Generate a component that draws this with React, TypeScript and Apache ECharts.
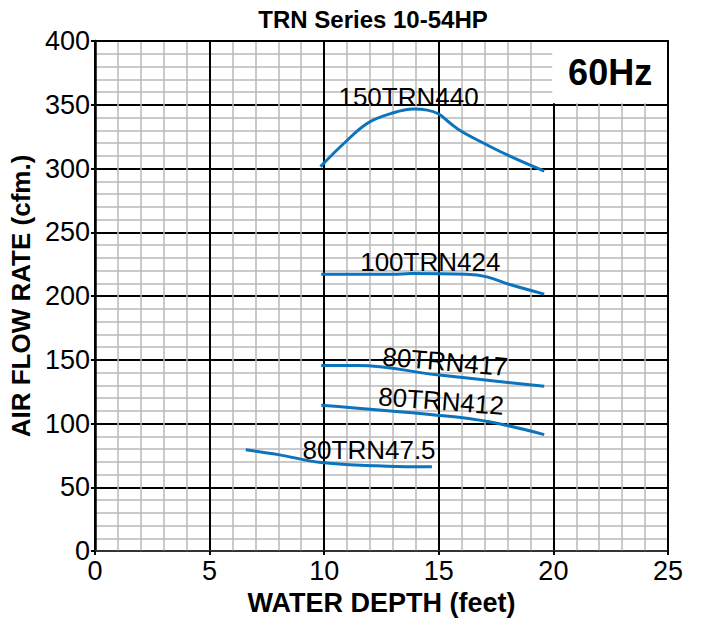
import React, { useEffect, useRef } from "react";
import * as echarts from "echarts";

const xTicks = [0, 5, 10, 15, 20, 25];
const yTicks = [0, 50, 100, 150, 200, 250, 300, 350, 400];

const s150: [number, number][] = [
  [9.84, 301.5], [10.88, 320], [11.89, 335.5], [12.9, 343], [13.9, 346.6],
  [14.5, 345.8], [15.0, 342.7], [15.5, 335.5], [16.0, 329], [16.94, 320],
  [18.1, 309.7], [19.6, 298],
];
const s100: [number, number][] = [
  [9.87, 217], [13.0, 217], [13.77, 217.6], [16.2, 217], [17.1, 215],
  [18.1, 209], [19.6, 201.5],
];
const s417: [number, number][] = [
  [9.87, 145.5], [11.46, 145.5], [14.92, 138.2], [19.6, 129.2],
];
const s412: [number, number][] = [
  [9.87, 114.3], [14.92, 106.5], [17.2, 101.3], [19.6, 91.3],
];
const s475: [number, number][] = [
  [6.58, 79.4], [8.0, 75.6], [9.87, 69.4], [12.3, 66.8], [13.9, 66], [14.7, 66],
];

const seriesNames = ["150TRN440", "100TRN424", "80TRN417", "80TRN412", "80TRN47.5"];
const seriesData = [s150, s100, s417, s412, s475];
const labelPos: [number, number][] = [
  [13.68, 355.9], [14.63, 226.7], [15.28, 148.5], [15.1, 117.6], [11.96, 78.9],
];
const labelRot = [0, 0, -5, -4.5, 0];

const LINE = "#0b74bd";
const FONT = "'Liberation Sans', Arial, Helvetica, sans-serif";

export default function App() {
  const ref = useRef<HTMLDivElement>(null);
  useEffect(() => {
    if (!ref.current) return;
    const chart = echarts.init(ref.current, undefined, { renderer: "svg" });
    const series: any[] = seriesData.map((d, i) => ({
      type: "line",
      name: seriesNames[i],
      data: d,
      smooth: 0.4,
      symbol: "none",
      lineStyle: { color: LINE, width: 3 },
      z: 3,
      markPoint: {
        symbol: "circle",
        symbolSize: 0,
        silent: true,
        data: [
          {
            coord: labelPos[i],
            label: {
              show: true,
              position: "inside",
              formatter: seriesNames[i],
              fontFamily: FONT,
              fontSize: 26,
              color: "#000",
              rotate: labelRot[i],
            },
          },
        ],
      },
    }));
    series.push({
      type: "line",
      data: [],
      markArea: {
        silent: true,
        itemStyle: { color: "#fff", opacity: 1 },
        label: {
          show: true,
          position: "inside",
          formatter: "60Hz",
          fontFamily: FONT,
          fontWeight: "bold",
          fontSize: 36,
          color: "#000",
        },
        data: [[{ coord: [19.95, 351.1] }, { coord: [25, 400] }]],
      },
      z: 1,
    });
    chart.setOption({
      animation: false,
      backgroundColor: "#fff",
      title: {
        text: "TRN Series 10-54HP",
        left: 368,
        textAlign: "center",
        top: 2,
        textStyle: { fontFamily: FONT, fontWeight: "bold", fontSize: 24, color: "#000" },
      },
      grid: { left: 92, right: 33, top: 41, bottom: 65, containLabel: false },
      xAxis: [
        {
          type: "value",
          min: xTicks[0],
          max: xTicks[xTicks.length - 1],
          interval: 5,
          name: "WATER DEPTH (feet)",
          nameLocation: "middle",
          nameGap: 38,
          nameTextStyle: { fontFamily: FONT, fontWeight: "bold", fontSize: 27, color: "#000" },
          axisLine: { show: true, lineStyle: { color: "#444", width: 1.5 } },
          axisTick: { show: true, length: 4, lineStyle: { color: "#000", width: 2 } },
          axisLabel: { fontFamily: FONT, fontSize: 27, color: "#000", margin: 6 },
          splitLine: { show: true, lineStyle: { color: "#000", width: 2 } },
          minorTick: { show: false, splitNumber: 5 },
          minorSplitLine: { show: true, lineStyle: { color: "#b8b8b8", width: 1.5 } },
        },
        {
          type: "value",
          position: "top",
          min: 0,
          max: 25,
          interval: 5,
          axisLine: { show: true, onZero: false, lineStyle: { color: "#000", width: 2 } },
          axisTick: { show: false },
          axisLabel: { show: false },
          splitLine: { show: false },
          z: 10,
        },
      ],
      yAxis: [
        {
          type: "value",
          min: yTicks[0],
          max: yTicks[yTicks.length - 1],
          interval: 50,
          name: "AIR FLOW RATE (cfm.)",
          nameLocation: "middle",
          nameGap: 58,
          nameTextStyle: { fontFamily: FONT, fontWeight: "bold", fontSize: 26, color: "#000" },
          axisLine: { show: true, lineStyle: { color: "#000", width: 2.5 } },
          axisTick: { show: true, length: 4, lineStyle: { color: "#000", width: 2 } },
          axisLabel: { fontFamily: FONT, fontSize: 27, color: "#000", margin: 5 },
          splitLine: { show: true, lineStyle: { color: "#000", width: 2 } },
          minorTick: { show: false, splitNumber: 5 },
          minorSplitLine: { show: true, lineStyle: { color: "#b8b8b8", width: 1.5 } },
        },
        {
          type: "value",
          position: "right",
          min: 0,
          max: 400,
          interval: 50,
          axisLine: { show: true, onZero: false, lineStyle: { color: "#000", width: 2 } },
          axisTick: { show: false },
          axisLabel: { show: false },
          splitLine: { show: false },
          z: 10,
        },
      ],
      series,
    });
    return () => chart.dispose();
  }, []);
  return (
    <div
      ref={ref}
      style={{ position: "fixed", left: 0, top: 0, width: 701, height: 621 }}
    />
  );
}
